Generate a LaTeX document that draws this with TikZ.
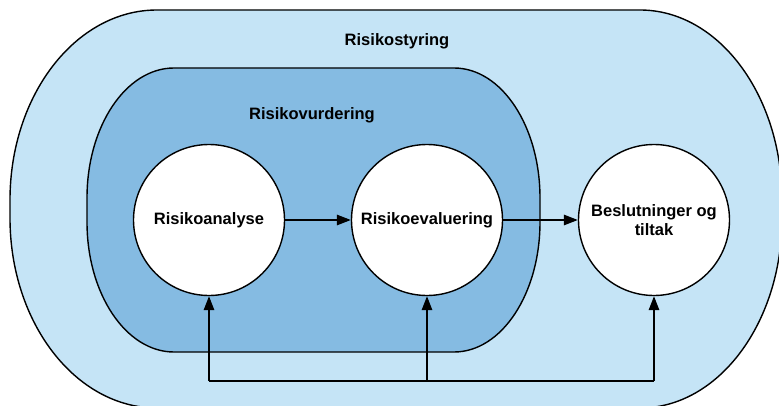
\documentclass[tikz,border=0pt]{standalone}
\usepackage{fontspec}
\setmainfont{Liberation Sans}
\usetikzlibrary{arrows.meta}

\definecolor{styringblue}{HTML}{C5E4F6}
\definecolor{vurderingblue}{HTML}{85BBE2}

\begin{document}
\begin{tikzpicture}
[
    x=1pt, y=1pt,
    every node/.style={font=\bfseries\fontsize{16.5}{19}\selectfont},
    area/.style={draw=black, line width=1.4pt},
    stage/.style={circle, draw=black, fill=white, line width=1.4pt,
        minimum size=151pt, inner sep=0pt, align=center},
    flow/.style={line width=1.4pt, -{Triangle[length=14pt, width=10.5pt]}},
]
\useasboundingbox (0,0) rectangle (779,405);

% Risikostyring
\draw[area, fill=styringblue] (157,395) -- (640,395)
    arc[start angle=90, end angle=0, x radius=142, y radius=190] -- (782,187)
    arc[start angle=0, end angle=-90, x radius=142, y radius=190] -- (157,-3)
    arc[start angle=270, end angle=180, x radius=147, y radius=190] -- (10,205)
    arc[start angle=180, end angle=90, x radius=147, y radius=190] -- cycle;
\node (styring) [anchor=base] at (397,359) {Risikostyring};

% Risikovurdering
\draw[area, fill=vurderingblue] (174,337) -- (454,337)
    arc[start angle=90, end angle=0, x radius=86, y radius=130] -- (540,183)
    arc[start angle=0, end angle=-90, x radius=86, y radius=130] -- (174,53)
    arc[start angle=270, end angle=180, x radius=87, y radius=130] -- (87,207)
    arc[start angle=180, end angle=90, x radius=87, y radius=130] -- cycle;
\node (vurdering) [anchor=base] at (312,285) {Risikovurdering};

\node (analyse) [stage] at (209,185) {Risikoanalyse};
\node (evaluering) [stage] at (427,185) {Risikoevaluering};
\node (tiltak) [stage] at (654,185) {Beslutninger og\\tiltak};

\draw[flow] (analyse) -- (evaluering);
\draw[flow] (evaluering) -- (tiltak);

% tilbakekobling
\coordinate (fb) at (427,24);
\draw[line width=1.4pt] (analyse.south |- fb) -- (tiltak.south |- fb);
\draw[flow] (analyse.south |- fb) -- (analyse.south);
\draw[flow] (evaluering.south |- fb) -- (evaluering.south);
\draw[flow] (tiltak.south |- fb) -- (tiltak.south);
\end{tikzpicture}
\end{document}
